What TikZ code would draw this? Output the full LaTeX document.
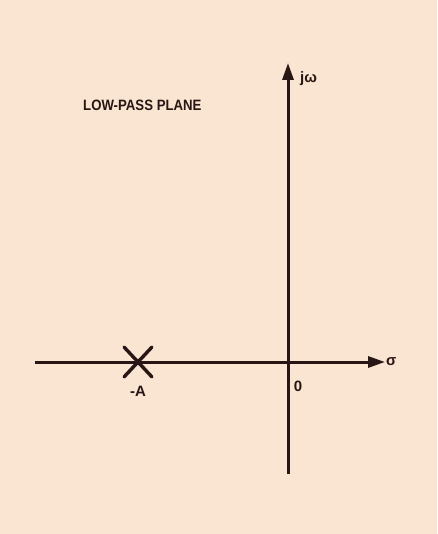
\documentclass[tikz,border=0pt]{standalone}
\usepackage{fontspec}
\setmainfont{Liberation Sans}
\usetikzlibrary{arrows.meta,calc}
\definecolor{bg}{RGB}{250,228,210}
\definecolor{ink}{RGB}{40,22,20}
\begin{document}
\begin{tikzpicture}[x=1pt,y=-1pt,
  axis/.style={draw=ink,line width=3pt,-{Triangle[length=17pt,width=11pt]}},
  lbl/.style={text=ink,font=\bfseries\fontsize{15}{16}\selectfont,inner sep=0pt},
  pole/.style={draw=ink,line width=3.4pt,line cap=round}]
\fill[bg] (0,0) rectangle (437,534);
\useasboundingbox (0,0) rectangle (437,534);
\coordinate (hl) at (35,362);
\coordinate (hr) at (385,362);
\coordinate (vb) at (288,474);
\coordinate (vt) at (288,63);
\draw[axis] (hl) -- (hr);
\draw[axis] (vb) -- (vt);
\coordinate (p) at (138,362);
\coordinate (p1) at ($(p)+(-14,-15)$);
\coordinate (p2) at ($(p)+(14,15)$);
\coordinate (p3) at ($(p)+(-14,15)$);
\coordinate (p4) at ($(p)+(14,-15)$);
\draw[pole] (p1) -- (p2);
\draw[pole] (p3) -- (p4);
\node[lbl,anchor=west] (title) at (83,105) {\scalebox{0.88}[1]{LOW-PASS PLANE}};
\node[lbl] (mA) at (138,391) {-A};
\node[lbl] (zero) at (298,386) {0};
\node[lbl,anchor=west] (sigma) at (386,362) {σ};
\node[lbl,anchor=west] (jw) at (300,79) {jω};
\end{tikzpicture}
\end{document}
